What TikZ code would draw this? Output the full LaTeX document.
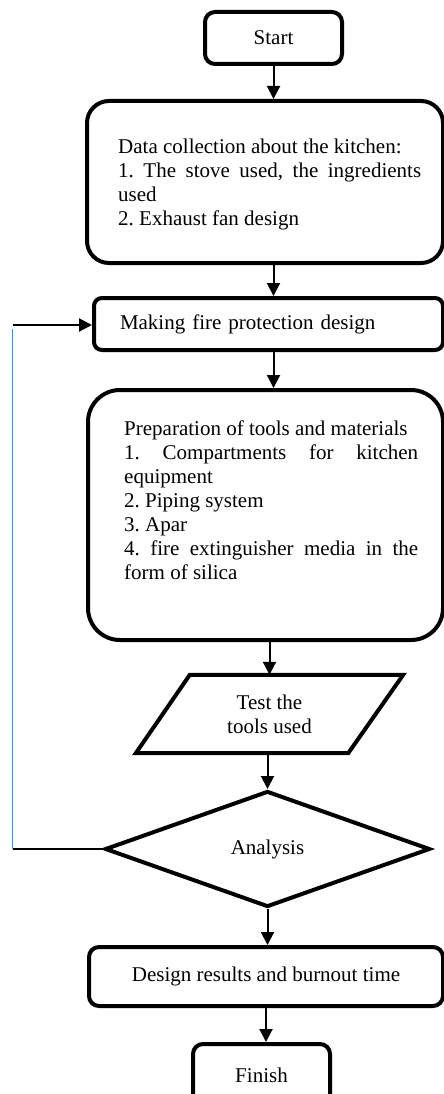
\documentclass[tikz,border=0pt]{standalone}
\usepackage{fontspec}
\setmainfont{Liberation Serif}
\usetikzlibrary{arrows.meta,shapes.geometric,calc}
\definecolor{fbblue}{HTML}{5B8BD0}
\frenchspacing
\tikzset{
  box/.style={draw, line width=4pt, rounded corners=#1, inner sep=0pt},
  box/.default=10pt,
  txt/.style={inner sep=0pt, align=justify},
  arr/.style={line width=2pt, -{Triangle[width=13pt,length=13pt]}},
  thinline/.style={line width=1.5pt},
  fbline/.style={line width=1.5pt, draw=fbblue},
}
\begin{document}
\begin{tikzpicture}[x=1pt,y=-1pt,font=\fontsize{21}{24}\selectfont\frenchspacing]
\useasboundingbox (0,0) rectangle (444,1094);

\node[box=10pt, minimum width=137pt, minimum height=52pt] (start) at (273.5,38) {Start};

\node[box=22pt, minimum width=356pt, minimum height=162pt] (data) at (265,182) {};
\node[txt, text width=303pt, anchor=north west] (datatext) at (118,139)
  {Data collection about the kitchen:\\
   1. The stove used, the ingredients\linebreak used\\
   2. Exhaust fan design};

\node[box=8pt, minimum width=349pt, minimum height=52pt, text width=297pt, inner xsep=26pt, align=left] (making) at (268.5,324) {Making fire protection design};

\node[box=32pt, minimum width=355pt, minimum height=250pt] (prep) at (265.5,515) {};
\node[txt, text width=294pt, anchor=north west] (preptext) at (124,421)
  {Preparation of tools and materials\\
   1. Compartments for kitchen\linebreak equipment\\
   2. Piping system\\
   3. Apar\\
   4. fire extinguisher media in the\linebreak form of silica};

\node[minimum width=267pt, minimum height=78pt, inner sep=0pt, align=center] (test) at (269.5,714) {Test the\\tools used};
\draw[line width=4pt] ($(test.north west)+(54,0)$) -- (test.north east) -- ($(test.south east)+(-55,0)$) -- (test.south west) -- cycle;

\node[draw, diamond, line width=4pt, minimum width=325pt, minimum height=116pt, inner sep=0pt] (analysis) at (267.5,849) {Analysis};

\node[box=10pt, minimum width=354pt, minimum height=59pt] (design) at (266,976.5) {Design results and burnout time};

\node[box=10pt, minimum width=137pt, minimum height=62pt] (finish) at (261.5,1075) {Finish};

\draw[arr] (start.south) -- (start.south |- data.north);
\draw[arr] (start.south |- data.south) -- (start.south |- making.north);
\draw[arr] (start.south |- making.south) -- (start.south |- prep.north);
\draw[arr] (test.north |- prep.south) -- (test.north);
\draw[arr] (analysis.north |- test.south) -- (analysis.north);
\draw[arr] (analysis.south) -- (analysis.south |- design.north);
\draw[arr] (design.south) -- (design.south |- finish.north);

\coordinate (fbB) at (12.5,849);
\coordinate (fbT) at (12.5,325);
\coordinate (fbS) at (12.5,329);
\draw[thinline] (analysis.west) -- (fbB);
\draw[fbline] (fbB) -- (fbS);
\draw[arr] (fbT) -- (fbT -| making.west);
\end{tikzpicture}
\end{document}
